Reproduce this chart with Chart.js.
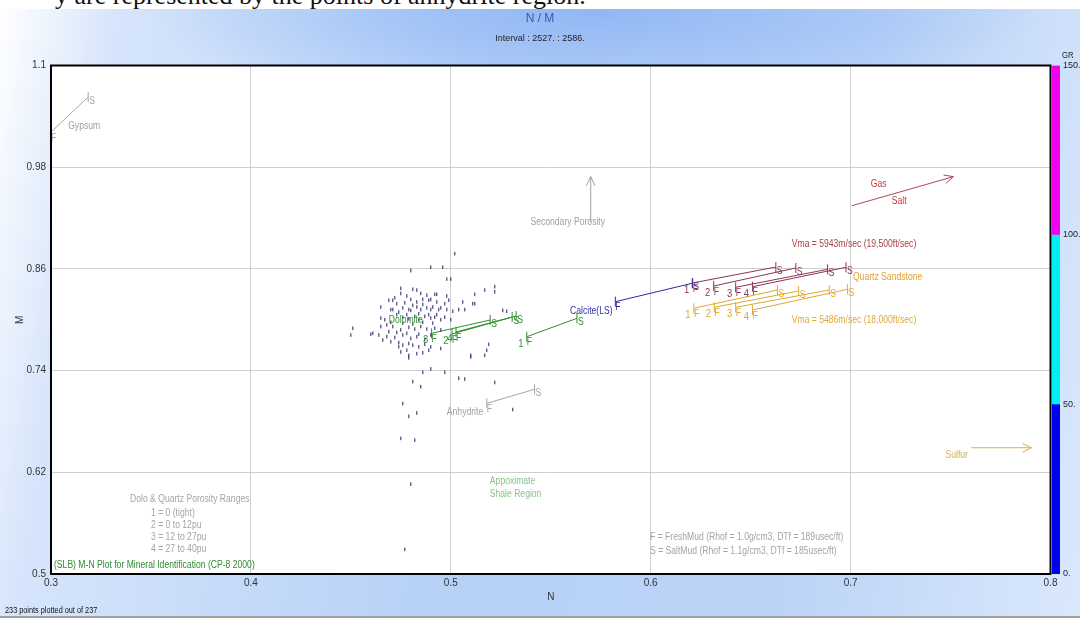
<!DOCTYPE html>
<html>
<head>
<meta charset="utf-8">
<script src="https://cdn.jsdelivr.net/npm/chart.js@4.4.1/dist/chart.umd.min.js"></script>
<style>
  html, body { margin: 0; padding: 0; }
  body {
    width: 1080px; height: 619px; overflow: hidden; position: relative; background: #fff;
    font-family: "Liberation Sans", Arial, sans-serif;
  }
  #docLine { position: absolute; left: 0; top: 0; width: 1080px; height: 9px; overflow: hidden; background: #fff; }
  #docLine span { position: absolute; left: 55px; top: -19px; font: 26px "Liberation Serif", "Times New Roman", serif; color: #111; white-space: nowrap; }
  #panel {
    position: absolute; left: 0; top: 9px; width: 1080px; height: 607px;
    border-bottom: 2px solid #a0a0a0;
    background:
      radial-gradient(ellipse 42% 16% at 55% 0%, rgba(140,180,244,0.9) 0%, rgba(140,180,244,0) 100%),
      linear-gradient(100deg, #ffffff 0%, #d6e5fb 10%, #b7d1f7 45%, #bcd4f7 75%, #dae8fc 100%);
  }
  canvas { position: absolute; }
  #mainChart { left: 0; top: 0; }
  #grBar { left: 1046px; top: 40px; }
  .txt { position: absolute; white-space: nowrap; font-size: 10px; line-height: 12px; transform-origin: 0 0; transform: scaleX(0.86); }
  #title, #interval { left: 0; width: 1080px; text-align: center; transform: none; }
  #title { top: 12px; font-size: 12px; color: #3a5aa8; }
  #interval { top: 32px; font-size: 9px; color: #222; }
  #grTitle { left: 1062px; top: 49px; font-size: 9px; color: #222; }
  .gray { color: #a4a4a4; }
  #rangeHead { left: 130px; top: 493px; }
  #rangeList { left: 151px; top: 507px; }
  #slb { left: 54px; top: 559px; color: #2f8a2f; }
  #mud { left: 650px; top: 530px; line-height: 14px; }
  #count { left: 5px; top: 604px; font-size: 8.5px; color: #111; }
</style>
</head>
<body>
<div id="docLine"><span>y are represented by the points of anhydrite region.</span></div>
<div id="panel"></div>
<canvas id="mainChart" width="1080" height="619"></canvas>
<canvas id="grBar" width="34" height="545"></canvas>
<div class="txt" id="title">N / M</div>
<div class="txt" id="interval">Interval : 2527. : 2586.</div>
<div class="txt" id="grTitle">GR</div>
<div class="txt gray" id="rangeHead">Dolo &amp; Quartz Porosity Ranges</div>
<div class="txt gray" id="rangeList">1 = 0 (tight)<br>2 = 0 to 12pu<br>3 = 12 to 27pu<br>4 = 27 to 40pu</div>
<div class="txt" id="slb">(SLB) M-N Plot for Mineral Identification (CP-8 2000)</div>
<div class="txt gray" id="mud">F = FreshMud (Rhof = 1.0g/cm3, DTf = 189usec/ft)<br>S = SaltMud (Rhof = 1.1g/cm3, DTf = 185usec/ft)</div>
<div class="txt" id="count">233 points plotted out of 237</div>
<script>
// axis ticks
const xTicks = [0.3, 0.4, 0.5, 0.6, 0.7, 0.8];
const yTicks = [0.5, 0.62, 0.74, 0.86, 0.98, 1.1];
const grTicks = [0, 50, 100, 150];
const grBands = [50, 50, 50];

// porosity range tags used on dolomite / quartz lines
const porosityTags = ["1", "2", "3", "4"];

// mineral lines: [N, M] at fresh mud (F) and salt mud (S) ends
const dolomiteF = [[0.538, 0.780], [0.5006, 0.7832], [0.4904, 0.784], [0.5026, 0.7856]];
const dolomiteS = [[0.5631, 0.8017], [0.5307, 0.8032], [0.5197, 0.7997], [0.5327, 0.8044]];
const quartzFastF = [[0.621, 0.8434], [0.6315, 0.8398], [0.6425, 0.8383], [0.6509, 0.839]];
const quartzFastS = [[0.6626, 0.8622], [0.6726, 0.8611], [0.6885, 0.8595], [0.6977, 0.8619]];
const quartzSlowF = [[0.6216, 0.8135], [0.6318, 0.8147], [0.6425, 0.8147], [0.6509, 0.8115]];
const quartzSlowS = [[0.6634, 0.8351], [0.674, 0.8339], [0.6893, 0.8351], [0.6985, 0.8359]];
const gypsumLine = [[0.3, 1.0215], [0.3186, 1.0628]];
const anhydriteLine = [[0.518, 0.7014], [0.5419, 0.7179]];
const calciteLine = [[0.5823, 0.8213], [0.6208, 0.843]];

// trend arrows
const gasSaltArrow = [[0.7007, 0.9346], [0.7514, 0.9688]];
const sulfurArrow = [[0.7604, 0.649], [0.7905, 0.649]];
const porosityArrow = [[0.57, 0.9153], [0.57, 0.9688]];

// in-plot notes
const noteTexts = ["Gypsum", "Secondary Porosity", "Calcite(LS)", "Dolomite", "Anhydrite", "Appoximate", "Shale Region",
  "Vma = 5943m/sec (19,500ft/sec)", "Quartz Sandstone", "Vma = 5486m/sec (18,000ft/sec)", "Gas", "Salt", "Sulfur"];
const noteN = [0.3166, 0.5585, 0.5703, 0.4775, 0.5071, 0.5309, 0.5324, 0.7017, 0.7185, 0.7017, 0.714, 0.7243, 0.7531];
const noteM = [1.0286, 0.9153, 0.8103, 0.7989, 0.6903, 0.6089, 0.5944, 0.8894, 0.8501, 0.7997, 0.9598, 0.9401, 0.6404];

// log samples: [N, M]
const nmPoints = [
  [0.502, 0.878], [0.480, 0.858], [0.490, 0.862], [0.496, 0.862], [0.498, 0.848], [0.500, 0.848],
  [0.475, 0.837], [0.481, 0.836], [0.483, 0.835], [0.475, 0.831], [0.478, 0.828], [0.485, 0.831],
  [0.488, 0.829], [0.492, 0.830], [0.493, 0.830], [0.498, 0.828], [0.512, 0.830], [0.517, 0.835],
  [0.522, 0.839], [0.522, 0.833], [0.469, 0.823], [0.471, 0.823], [0.473, 0.819], [0.480, 0.824],
  [0.483, 0.821], [0.486, 0.824], [0.489, 0.823], [0.490, 0.824], [0.493, 0.821], [0.497, 0.819],
  [0.499, 0.823], [0.506, 0.821], [0.511, 0.819], [0.512, 0.819], [0.465, 0.815], [0.470, 0.812],
  [0.471, 0.812], [0.476, 0.814], [0.479, 0.812], [0.480, 0.811], [0.483, 0.815], [0.485, 0.812],
  [0.488, 0.814], [0.490, 0.812], [0.491, 0.815], [0.494, 0.812], [0.495, 0.814], [0.498, 0.812],
  [0.501, 0.810], [0.504, 0.812], [0.507, 0.812], [0.526, 0.811], [0.528, 0.810], [0.465, 0.802],
  [0.467, 0.800], [0.473, 0.806], [0.476, 0.803], [0.479, 0.801], [0.482, 0.804], [0.484, 0.800],
  [0.487, 0.804], [0.490, 0.802], [0.492, 0.803], [0.495, 0.800], [0.497, 0.803], [0.500, 0.800],
  [0.465, 0.792], [0.468, 0.794], [0.471, 0.792], [0.475, 0.788], [0.479, 0.791], [0.482, 0.789],
  [0.485, 0.792], [0.488, 0.789], [0.492, 0.790], [0.495, 0.788], [0.451, 0.790], [0.450, 0.782],
  [0.460, 0.783], [0.461, 0.784], [0.464, 0.782], [0.468, 0.780], [0.472, 0.779], [0.476, 0.782],
  [0.480, 0.778], [0.483, 0.780], [0.487, 0.777], [0.470, 0.774], [0.474, 0.768], [0.476, 0.770],
  [0.479, 0.772], [0.484, 0.768], [0.490, 0.768], [0.495, 0.766], [0.475, 0.762], [0.479, 0.758],
  [0.483, 0.760], [0.510, 0.758], [0.517, 0.758], [0.518, 0.764], [0.519, 0.771], [0.479, 0.755],
  [0.489, 0.764], [0.510, 0.756], [0.486, 0.738], [0.490, 0.742], [0.497, 0.738], [0.504, 0.731],
  [0.507, 0.730], [0.522, 0.726], [0.481, 0.727], [0.485, 0.721], [0.476, 0.701], [0.483, 0.690],
  [0.479, 0.686], [0.531, 0.694], [0.475, 0.660], [0.482, 0.658], [0.480, 0.606], [0.477, 0.529],
  [0.472, 0.826], [0.477, 0.820], [0.481, 0.817], [0.486, 0.818], [0.474, 0.809], [0.478, 0.806],
  [0.484, 0.807], [0.489, 0.806], [0.493, 0.806], [0.470, 0.797], [0.476, 0.796], [0.481, 0.795],
  [0.486, 0.797], [0.491, 0.796], [0.469, 0.786], [0.473, 0.785], [0.478, 0.784], [0.484, 0.783],
  [0.490, 0.782], [0.466, 0.776], [0.474, 0.773], [0.481, 0.770], [0.487, 0.771], [0.478, 0.764],
  [0.486, 0.761],
];

const FONT = "'Liberation Sans', Arial, sans-serif";
const NARROW = 0.86;
const GRAY = "#a6a6a6";
const GREEN = "#2f8f2f";
const BLUE = "#2b2b9b";
const PLUM = "#8c3358";
const GOLD = "#e0a830";
const noteColors = ["#a0a0a0", "#a0a0a0", "#3030a8", GREEN, "#a0a0a0", "#8cc08c", "#8cc08c",
  "#a8404a", "#e0a030", "#e0a838", "#c83838", "#c83838", "#d0b060"];

const toXY = (points) => points.map(([x, y]) => ({ x, y }));

// condensed text, the original uses a narrow face
const narrowText = (ctx, text, x, y) => {
  ctx.save();
  ctx.translate(x, y);
  ctx.scale(NARROW, 1);
  ctx.fillText(text, 0, 0);
  ctx.restore();
};

const segment = (points, color, tag = "") => ({
  data: toXY(points),
  showLine: true,
  borderColor: color,
  borderWidth: 1,
  pointStyle: "line",
  pointRotation: 90,
  pointRadius: 5,
  pointBorderColor: color,
  pointBorderWidth: 1,
  tagged: true,
  endTag: tag,
});

const arrow = (points, color) => ({
  data: toXY(points),
  showLine: true,
  borderColor: color,
  borderWidth: 1,
  pointRadius: 0,
  arrowHead: true,
});

const datasets = [
  {
    data: toXY(nmPoints),
    pointStyle: "line",
    pointRotation: 90,
    pointRadius: 1.8,
    pointBorderColor: "#1c1c60",
    pointBorderWidth: 1,
  },
  segment(gypsumLine, GRAY),
  segment(anhydriteLine, GRAY),
  segment(calciteLine, BLUE),
  ...dolomiteF.map((f, i) => segment([f, dolomiteS[i]], GREEN, porosityTags[i])),
  ...quartzFastF.map((f, i) => segment([f, quartzFastS[i]], PLUM, porosityTags[i])),
  ...quartzSlowF.map((f, i) => segment([f, quartzSlowS[i]], GOLD, porosityTags[i])),
  arrow(gasSaltArrow, "#b04858"),
  arrow(sulfurArrow, "#d8b050"),
  arrow(porosityArrow, "#a0a0a0"),
];

const overlayPlugin = {
  id: "mnOverlay",
  beforeDraw(chart) {
    const { ctx, chartArea: a } = chart;
    ctx.save();
    ctx.fillStyle = "#ffffff";
    ctx.fillRect(a.left, a.top, a.right - a.left, a.bottom - a.top);
    ctx.restore();
  },
  afterDatasetsDraw(chart) {
    const { ctx, chartArea: a, scales } = chart;
    ctx.save();
    chart.data.datasets.forEach((ds, i) => {
      const pts = chart.getDatasetMeta(i).data;
      if (ds.arrowHead) {
        const p = pts[pts.length - 2];
        const q = pts[pts.length - 1];
        const ang = Math.atan2(q.y - p.y, q.x - p.x);
        ctx.strokeStyle = ds.borderColor;
        ctx.lineWidth = 1;
        ctx.beginPath();
        [0.45, -0.45].forEach((d) => {
          ctx.moveTo(q.x, q.y);
          ctx.lineTo(q.x - 10 * Math.cos(ang + d), q.y - 10 * Math.sin(ang + d));
        });
        ctx.stroke();
      }
      if (ds.tagged) {
        const f = pts[0];
        const s = pts[pts.length - 1];
        ctx.fillStyle = ds.borderColor;
        ctx.font = `10px ${FONT}`;
        ctx.textBaseline = "middle";
        ctx.textAlign = "left";
        narrowText(ctx, "F", f.x, f.y + 6);
        narrowText(ctx, "S", s.x + 1, s.y + 4);
        if (ds.endTag) {
          ctx.font = `11px ${FONT}`;
          ctx.textAlign = "center";
          narrowText(ctx, ds.endTag, f.x - 6, f.y + 7);
        }
      }
    });
    ctx.font = `10px ${FONT}`;
    ctx.textAlign = "center";
    ctx.textBaseline = "middle";
    noteTexts.forEach((text, i) => {
      ctx.fillStyle = noteColors[i];
      narrowText(ctx, text, scales.x.getPixelForValue(noteN[i]), scales.y.getPixelForValue(noteM[i]));
    });
    ctx.strokeStyle = "#000";
    ctx.lineWidth = 2;
    ctx.strokeRect(a.left, a.top, a.right - a.left, a.bottom - a.top);
    ctx.restore();
  },
};

const tickFont = { family: FONT, size: 10 };

new Chart(document.getElementById("mainChart"), {
  type: "scatter",
  data: { datasets },
  options: {
    responsive: false,
    animation: false,
    layout: { padding: { top: 65.5, right: 29.5, left: 0, bottom: 0 } },
    plugins: { legend: { display: false }, tooltip: { enabled: false } },
    scales: {
      x: {
        type: "linear",
        min: 0.3,
        max: 0.8,
        afterBuildTicks: (scale) => { scale.ticks = xTicks.map((value) => ({ value })); },
        afterFit: (scale) => { scale.height = 45; },
        grid: { color: "#cfcfcf", drawTicks: false },
        border: { display: false },
        ticks: { padding: 3, color: "#333", font: tickFont, callback: (v) => `${v}` },
        title: { display: true, text: "N", color: "#333", font: tickFont, padding: { top: 0, bottom: 16 } },
      },
      y: {
        type: "linear",
        min: 0.5,
        max: 1.1,
        afterBuildTicks: (scale) => { scale.ticks = yTicks.map((value) => ({ value })); },
        afterFit: (scale) => { scale.width = 51; },
        grid: { color: "#cfcfcf", drawTicks: false },
        border: { display: false },
        ticks: { padding: 5, color: "#333", font: tickFont, callback: (v) => `${v}` },
        title: { display: true, text: "M", color: "#333", font: tickFont, padding: { top: 14, bottom: 0 } },
      },
    },
  },
  plugins: [overlayPlugin],
});

const grColors = ["#0000f0", "#00f0f0", "#f000f0"];

new Chart(document.getElementById("grBar"), {
  type: "bar",
  data: {
    labels: ["GR"],
    datasets: grBands.map((v, i) => ({
      data: [v],
      backgroundColor: grColors[i],
      borderWidth: 0,
      barPercentage: 1,
      categoryPercentage: 1,
    })),
  },
  options: {
    responsive: false,
    animation: false,
    layout: { padding: { left: 6, top: 25.5, bottom: 11, right: 0 } },
    plugins: { legend: { display: false }, tooltip: { enabled: false } },
    scales: {
      x: { stacked: true, display: false },
      y: {
        stacked: true,
        position: "right",
        min: 0,
        max: 150,
        afterBuildTicks: (scale) => { scale.ticks = grTicks.map((value) => ({ value })); },
        afterFit: (scale) => { scale.width = 20; },
        grid: { display: false, drawTicks: false },
        border: { display: false },
        ticks: { padding: 3, color: "#222", font: { family: FONT, size: 9 }, callback: (v) => `${v}.` },
      },
    },
  },
});
</script>
</body>
</html>
